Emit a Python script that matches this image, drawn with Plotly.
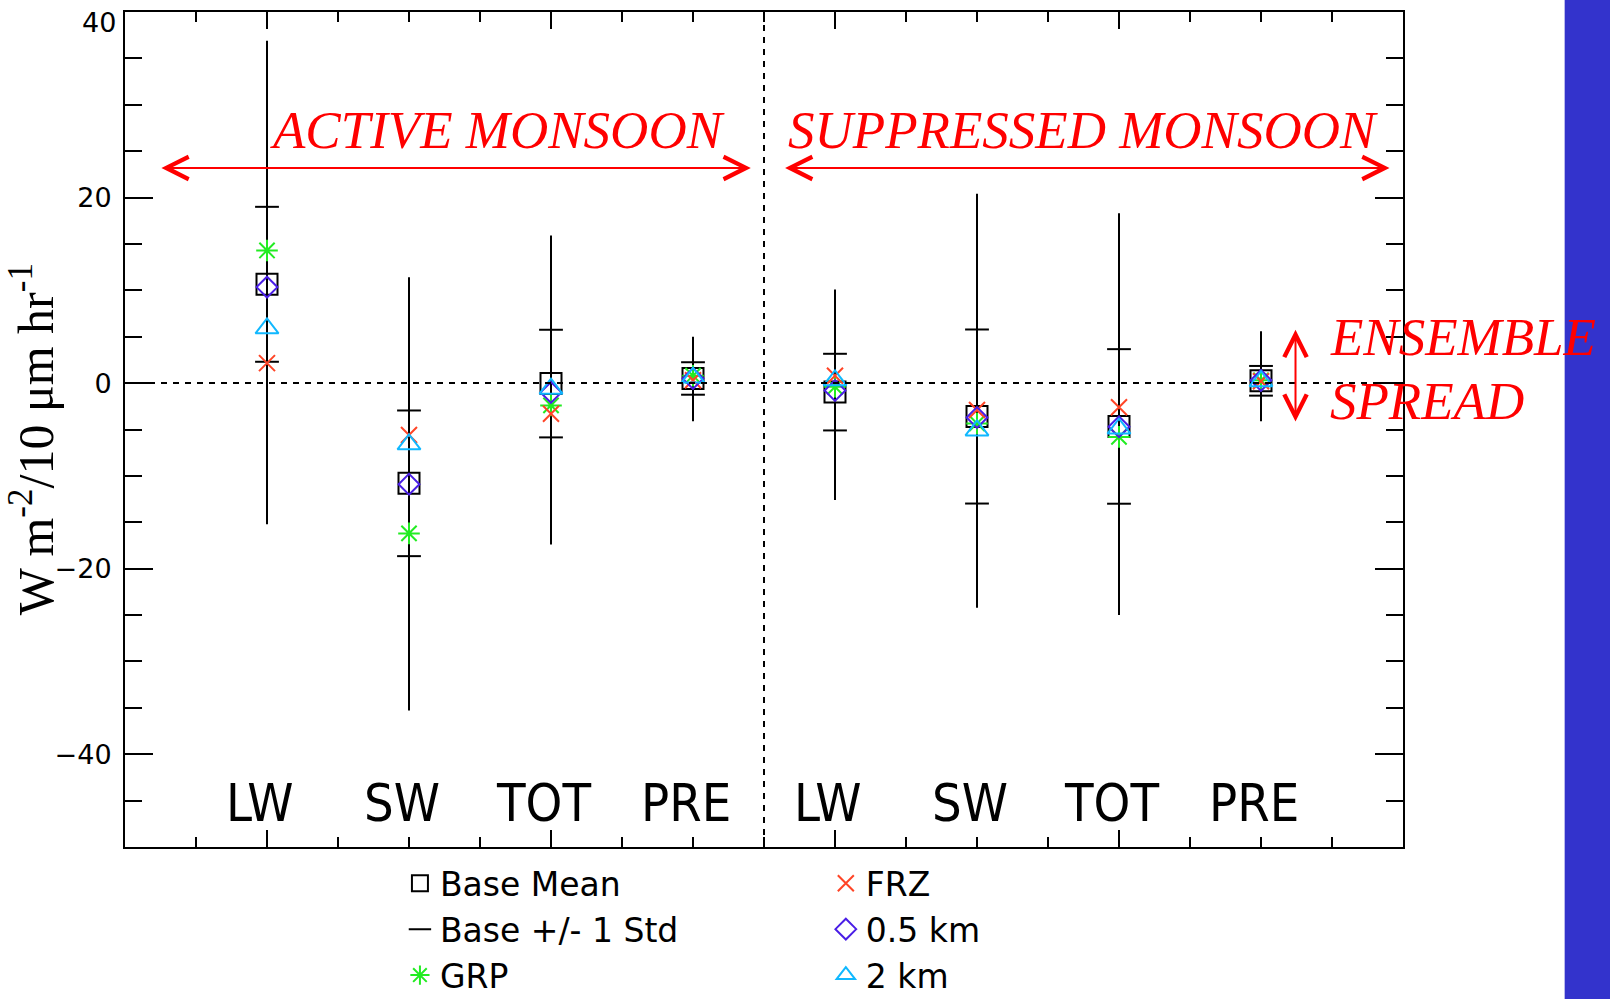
import plotly.graph_objects as go

# ---------------- data ----------------
categories = ["LW", "SW", "TOT", "PRE", "LW", "SW", "TOT", "PRE"]
base_mean = [10.65, -10.8, -0.05, 0.5, -0.97, -3.6, -4.67, 0.25]
base_std = [8.35, 7.85, 5.8, 1.75, 4.13, 9.38, 8.33, 1.6]
ens_max = [36.9, 11.4, 15.9, 5.0, 10.1, 20.4, 18.3, 5.6]
ens_min = [-15.2, -35.3, -17.4, -4.1, -12.6, -24.2, -25.0, -4.1]
grp = [14.3, -16.2, -2.4, 0.8, -0.4, -4.35, -5.8, 0.3]
frz = [2.15, -5.6, -3.3, 0.3, 0.8, -2.9, -2.6, 0.2]
km05 = [10.35, -10.9, -1.0, 0.5, -0.8, -3.7, -4.7, 0.3]
km2 = [5.9, -6.6, -0.6, 0.6, 0.3, -5.1, -4.9, 0.2]
y_ticks = [-40, -20, 0, 20, 40]

xs = list(range(1, len(categories) + 1))
split_x = len(categories) / 2 + 0.5

# ---------------- figure ----------------
W, H = 1610, 999
L, R, T, B = 125, 1610 - 1403.3, 11.7, 999 - 846.7
pw, ph = W - L - R, H - T - B


def px_x(p):
    return (p - L) / pw


def px_y(p):
    return (H - B - p) / ph


C_GRP = "#22ec22"
C_FRZ = "#ff4426"
C_05 = "#4a1ee6"
C_2 = "#10b8ff"
TICK_FONT = dict(family="DejaVu Sans, Liberation Sans, sans-serif", size=27, color="black")

fig = go.Figure()

# whiskers (ensemble range)
wx, wy = [], []
for x, lo, hi in zip(xs, ens_min, ens_max):
    wx += [x, x, None]
    wy += [lo, hi, None]
fig.add_trace(go.Scatter(x=wx, y=wy, mode="lines", line=dict(color="black", width=2),
                         showlegend=False, hoverinfo="skip"))

# base +/- 1 std
sx = xs + xs
sy = [m + s for m, s in zip(base_mean, base_std)] + [m - s for m, s in zip(base_mean, base_std)]
fig.add_trace(go.Scatter(x=sx, y=sy, mode="markers", name="Base +/- 1 Std",
                         marker=dict(symbol="line-ew-open", size=17, color="black",
                                     line=dict(color="black", width=2)),
                         legend="legend", legendrank=2))

fig.add_trace(go.Scatter(x=xs, y=base_mean, mode="markers", name="Base Mean",
                         marker=dict(symbol="square-open", size=21, color="black",
                                     line=dict(color="black", width=2)),
                         legend="legend", legendrank=1))

fig.add_trace(go.Scatter(x=xs, y=grp, mode="markers", name="GRP",
                         marker=dict(symbol="asterisk-open", size=18, color=C_GRP,
                                     line=dict(color=C_GRP, width=2)),
                         legend="legend", legendrank=3))
fig.add_trace(go.Scatter(x=xs, y=frz, mode="markers", name="FRZ",
                         marker=dict(symbol="x-thin-open", size=16, color=C_FRZ,
                                     line=dict(color=C_FRZ, width=2)),
                         legend="legend2", legendrank=1))
fig.add_trace(go.Scatter(x=xs, y=km05, mode="markers", name="0.5 km",
                         marker=dict(symbol="diamond-open", size=16, color=C_05,
                                     line=dict(color=C_05, width=2)),
                         legend="legend2", legendrank=2))
fig.add_trace(go.Scatter(x=xs, y=km2, mode="markers", name="2 km",
                         marker=dict(symbol="triangle-up-open", size=20, color=C_2,
                                     line=dict(color=C_2, width=2)),
                         legend="legend2", legendrank=3))

# ---------------- shapes ----------------
shapes = [
    dict(type="line", xref="paper", yref="y", x0=0, x1=1, y0=0, y1=0,
         line=dict(color="black", width=2, dash="6px,6px")),
    dict(type="line", xref="x", yref="paper", x0=split_x, x1=split_x, y0=0, y1=1,
         line=dict(color="black", width=2, dash="6px,6px")),
    dict(type="rect", xref="paper", yref="paper", x0=px_x(1565), x1=px_x(1640),
         y0=px_y(1040), y1=px_y(-40), fillcolor="#3333cc", line=dict(width=0), layer="above"),
]

red = "#ff0000"
tfont = dict(family="Liberation Serif, Times New Roman, serif", size=53, color=red, style="italic")
annotations = [
    dict(text="W m<sup>-2</sup>/10 μm hr<sup>-1</sup>", xref="paper", yref="paper",
         x=px_x(32), y=px_y(439), textangle=-90, showarrow=False,
         font=dict(family="Liberation Serif, Times New Roman, serif", size=50, color="black"),
         xanchor="center", yanchor="middle"),
    dict(text="ACTIVE MONSOON", xref="x", yref="y", x=1.01, y=27.25, showarrow=False,
         xanchor="left", yanchor="middle", font=tfont),
    dict(text="SUPPRESSED MONSOON", xref="x", yref="y", x=4.655, y=27.25, showarrow=False,
         xanchor="left", yanchor="middle", font=tfont),
    dict(text="ENSEMBLE", xref="x", yref="y", x=8.475, y=5.0, showarrow=False,
         xanchor="left", yanchor="middle", font=tfont),
    dict(text="SPREAD", xref="x", yref="y", x=8.475, y=-1.95, showarrow=False,
         xanchor="left", yanchor="middle", font=tfont),
    # top tick label, drawn slightly inside the page as in the original
    dict(text=str(y_ticks[-1]), xref="paper", yref="paper", x=px_x(118), y=px_y(22),
         xanchor="right", yanchor="middle", showarrow=False, font=TICK_FONT),
]
for (x0, y0, x1, y1) in [(0.246, 23.19, 4.407, 23.19), (4.638, 23.19, 8.905, 23.19),
                         (8.243, -4.31, 8.243, 5.75)]:
    annotations.append(dict(text="", xref="x", yref="y", axref="x", ayref="y",
                            x=x1, y=y1, ax=x0, ay=y0, showarrow=True,
                            arrowhead=5, startarrowhead=5, arrowside="end+start",
                            arrowsize=2.2, startarrowsize=2.2, arrowwidth=2,
                            arrowcolor=red, standoff=0, startstandoff=0))
for x, c in zip(xs, categories):
    annotations.append(dict(text=c, xref="x", yref="y", x=x - 0.05, y=-45.3, showarrow=False,
                            xanchor="center", yanchor="middle",
                            font=dict(family="Liberation Sans Narrow, DejaVu Sans Condensed, Liberation Sans, sans-serif",
                                      size=52, color="black")))

axis_ticks = y_ticks[:-1]
y_ticktext = [str(v).replace("-", "\u2212") for v in axis_ticks]

axis_common = dict(showline=True, linecolor="black", linewidth=2, mirror="allticks",
                   ticks="inside", tickwidth=2, tickcolor="black", showgrid=False,
                   zeroline=False)

LEG_FONT = dict(family="DejaVu Sans, Liberation Sans, sans-serif", size=33, color="black")

fig.update_layout(
    width=W, height=H, autosize=False,
    margin=dict(l=L, r=R, t=T, b=B, pad=0, autoexpand=False),
    paper_bgcolor="white", plot_bgcolor="white",
    xaxis=dict(range=[0, len(categories) + 1], tick0=1, dtick=2, ticklen=17,
               showticklabels=False,
               minor=dict(ticks="inside", dtick=0.5, tick0=0, ticklen=10, tickwidth=2,
                          tickcolor="black", showgrid=False),
               **axis_common),
    yaxis=dict(range=[-50, 40], tickvals=axis_ticks, ticktext=y_ticktext, ticklen=28,
               tickfont=TICK_FONT,
               ticklabelstandoff=6, ticklabeloverflow="allow",
               minor=dict(ticks="inside", dtick=5, tick0=0, ticklen=17, tickwidth=2,
                          tickcolor="black", showgrid=False),
               **axis_common),
    shapes=shapes,
    annotations=annotations,
    legend=dict(x=px_x(400), y=px_y(855), xanchor="left", yanchor="top",
                font=LEG_FONT, bgcolor="rgba(0,0,0,0)", traceorder="normal"),
    legend2=dict(x=px_x(826), y=px_y(855), xanchor="left", yanchor="top",
                 font=LEG_FONT, bgcolor="rgba(0,0,0,0)", traceorder="normal"),
    showlegend=True,
)

fig.write_html("out.html", config={"displayModeBar": False},
               post_script="document.body.style.margin='0';document.body.style.overflow='hidden';")
